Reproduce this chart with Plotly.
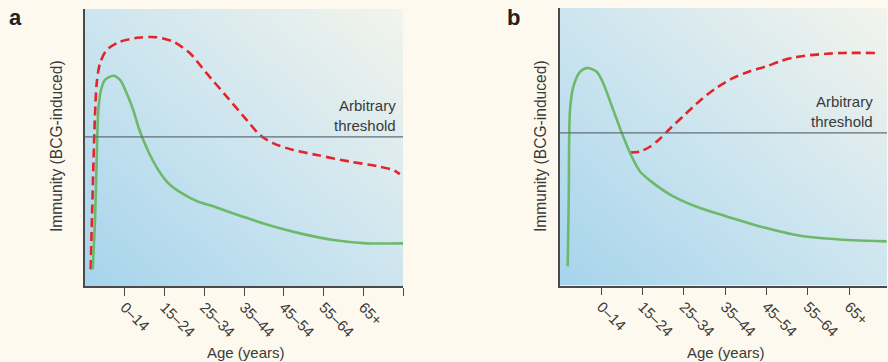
import base64
import plotly.graph_objects as go

# ---------------- data ----------------
age_labels = ["0–14", "15–24", "25–34", "35–44", "45–54", "55–64", "65+"]

# Panel a
a_green_x = [0.194, 0.252, 0.294, 0.335, 0.403, 0.503, 0.712, 0.881, 1.049, 1.215, 1.341, 1.467, 1.635, 1.844, 2.096, 2.433, 2.85, 3.19, 3.605, 4.025, 4.57, 5.41, 6.25, 7.09, 8.0]
a_green_y = [6.0, 23.8, 45.5, 63.5, 70.8, 74.4, 75.9, 74.4, 69.6, 63.5, 57.5, 52.7, 47.3, 41.9, 37.1, 33.5, 30.4, 29.0, 26.8, 24.8, 22.2, 19.0, 16.6, 15.4, 15.4]
a_red_x = [0.143, 0.176, 0.21, 0.25, 0.294, 0.377, 0.545, 0.88, 1.38, 1.80, 2.22, 2.64, 3.06, 3.57, 4.07, 4.40, 4.74, 5.24, 5.83, 6.67, 7.34, 7.75, 7.92]
a_red_y = [6.0, 25.0, 43.1, 61.1, 73.2, 80.4, 85.2, 88.2, 89.7, 89.8, 88.2, 84.0, 76.8, 68.3, 59.9, 54.5, 51.5, 49.1, 47.3, 44.9, 43.3, 41.9, 40.4]
a_threshold = 53.8

# Panel b
b_green_x = [0.186, 0.211, 0.242, 0.322, 0.484, 0.661, 0.889, 1.049, 1.291, 1.533, 1.736, 1.937, 2.26, 2.744, 3.39, 4.036, 4.843, 5.649, 6.295, 7.102, 7.91]
b_green_y = [6.9, 30.8, 63.2, 71.6, 77.0, 78.4, 77.0, 72.8, 63.2, 53.6, 46.5, 41.1, 36.9, 32.1, 27.9, 24.9, 21.3, 18.4, 17.1, 16.3, 15.9]
b_red_x = [1.695, 1.937, 2.179, 2.421, 2.663, 2.985, 3.39, 3.794, 4.197, 4.600, 5.005, 5.327, 5.649, 6.053, 6.457, 6.86, 7.627]
b_red_y = [47.9, 48.3, 50.0, 52.9, 56.5, 61.0, 66.6, 71.3, 74.8, 77.2, 79.0, 80.8, 82.1, 83.0, 83.5, 83.8, 83.8]
b_threshold = 55.0

# ---------------- style ----------------
W, H = 888, 362
FONT = "Liberation Sans, Arial, sans-serif"
TXT = "#3a3a3a"
GREEN = "#6db96b"
RED = "#e3242b"
AXIS = "#4a4a4a"
THR = "#5f6f7a"

svg = ('<svg xmlns="http://www.w3.org/2000/svg" width="100" height="100" preserveAspectRatio="none" viewBox="0 0 100 100">'
       '<defs><linearGradient id="g" x1="0" y1="1" x2="1" y2="0">'
       '<stop offset="0" stop-color="#a6d4ec"/><stop offset="0.5" stop-color="#cde5ef"/>'
       '<stop offset="1" stop-color="#f3f4ec"/></linearGradient></defs>'
       '<rect width="100" height="100" fill="url(#g)"/></svg>')
bg_src = "data:image/svg+xml;base64," + base64.b64encode(svg.encode()).decode()

dom_ax = [85 / W, 403 / W]
dom_ay = [1 - 286 / H, 1 - 9 / H]
dom_bx = [560 / W, 887 / W]
dom_by = [1 - 285.5 / H, 1 - 8 / H]

fig = go.Figure()

line_kw = dict(mode="lines", line_shape="spline", showlegend=False, hoverinfo="skip")
fig.add_trace(go.Scatter(x=a_red_x, y=a_red_y, line=dict(color=RED, width=2.6, dash="9px,5px", smoothing=0.8), xaxis="x", yaxis="y", **line_kw))
fig.add_trace(go.Scatter(x=a_green_x, y=a_green_y, line=dict(color=GREEN, width=2.6, smoothing=0.8), xaxis="x", yaxis="y", **line_kw))
fig.add_trace(go.Scatter(x=b_red_x, y=b_red_y, line=dict(color=RED, width=2.6, dash="9px,5px", smoothing=0.8), xaxis="x2", yaxis="y2", **line_kw))
fig.add_trace(go.Scatter(x=b_green_x, y=b_green_y, line=dict(color=GREEN, width=2.6, smoothing=0.8), xaxis="x2", yaxis="y2", **line_kw))

xcommon = dict(showgrid=False, zeroline=False, showline=True, linecolor=AXIS, linewidth=1.5,
               ticks="outside", ticklen=8, tickcolor=AXIS, tickwidth=1.2, tickangle=45,
               ticklabelstandoff=-3,
               tickfont=dict(family=FONT, size=15, color=TXT), fixedrange=True)
ycommon = dict(showgrid=False, zeroline=False, showline=True, linecolor=AXIS, linewidth=1.5,
               showticklabels=False, ticks="", range=[0, 100], fixedrange=True)

fig.update_layout(
    width=W, height=H,
    margin=dict(l=0, r=0, t=0, b=0),
    paper_bgcolor="#fdf9ee",
    plot_bgcolor="rgba(0,0,0,0)",
    xaxis=dict(domain=dom_ax, range=[0, 8], tickvals=list(range(1, 9)), ticktext=age_labels + [""], anchor="y", **xcommon),
    yaxis=dict(domain=dom_ay, anchor="x", **ycommon),
    xaxis2=dict(domain=dom_bx, range=[0, 7.92], tickvals=list(range(1, 8)), ticktext=age_labels, anchor="y2", **xcommon),
    yaxis2=dict(domain=dom_by, anchor="x2", **ycommon),
    images=[
        dict(source=bg_src, xref="paper", yref="paper", x=dom_ax[0], y=dom_ay[1],
             sizex=dom_ax[1] - dom_ax[0], sizey=dom_ay[1] - dom_ay[0], sizing="stretch", layer="below"),
        dict(source=bg_src, xref="paper", yref="paper", x=dom_bx[0], y=dom_by[1],
             sizex=dom_bx[1] - dom_bx[0], sizey=dom_by[1] - dom_by[0], sizing="stretch", layer="below"),
    ],
    shapes=[
        dict(type="line", xref="x domain", yref="y", x0=0, x1=1, y0=a_threshold, y1=a_threshold, line=dict(color=THR, width=1.2)),
        dict(type="line", xref="x2 domain", yref="y2", x0=0, x1=1, y0=b_threshold, y1=b_threshold, line=dict(color=THR, width=1.2)),
    ],
)

tfont = dict(family=FONT, size=15, color=TXT)
yfont = dict(family=FONT, size=15.6, color=TXT)
ann = [
    dict(text="<b>a</b>", x=15 / W, y=1 - 17 / H, xref="paper", yref="paper", xanchor="center", yanchor="middle", showarrow=False,
         font=dict(family=FONT, size=22, color="#222222")),
    dict(text="<b>b</b>", x=513 / W, y=1 - 17 / H, xref="paper", yref="paper", xanchor="center", yanchor="middle", showarrow=False,
         font=dict(family=FONT, size=22, color="#222222")),
    dict(text="Immunity (BCG-induced)", x=56 / W, y=1 - 146 / H, xref="paper", yref="paper", textangle=-90,
         xanchor="center", yanchor="middle", showarrow=False, font=yfont),
    dict(text="Immunity (BCG-induced)", x=540 / W, y=1 - 146 / H, xref="paper", yref="paper", textangle=-90,
         xanchor="center", yanchor="middle", showarrow=False, font=yfont),
    dict(text="Age (years)", x=246 / W, y=1 - 352 / H, xref="paper", yref="paper", xanchor="center", yanchor="middle",
         showarrow=False, font=tfont),
    dict(text="Age (years)", x=726 / W, y=1 - 352 / H, xref="paper", yref="paper", xanchor="center", yanchor="middle",
         showarrow=False, font=tfont),
    dict(text="Arbitrary<br>threshold", x=0.984, y=a_threshold, xref="x domain", yref="y", xanchor="right", yanchor="bottom",
         align="right", yshift=1, showarrow=False, font=tfont),
    dict(text="Arbitrary<br>threshold", x=0.963, y=b_threshold, xref="x2 domain", yref="y2", xanchor="right", yanchor="bottom",
         align="right", yshift=1, showarrow=False, font=tfont),
]
fig.update_layout(annotations=ann)

fig.write_html("out.html", config={"displayModeBar": False},
               post_script="document.body.style.margin='0';document.body.style.overflow='hidden';")
